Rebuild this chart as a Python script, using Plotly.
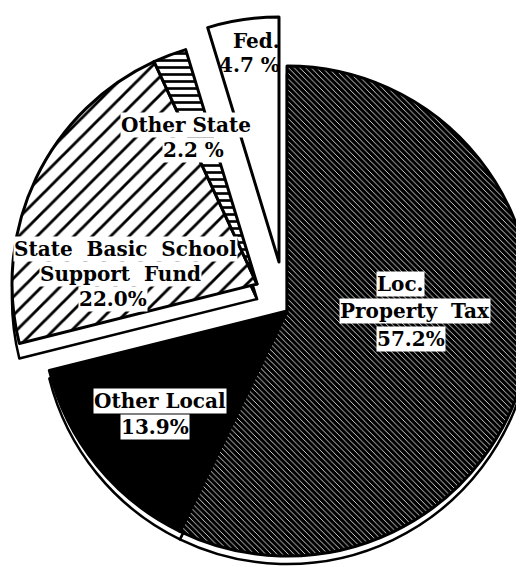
import plotly.graph_objects as go

# ---- data ----
labels = ["Local Property Tax", "Other Local", "State Basic School Support Fund", "Other State", "Fed."]
values = [57.2, 13.9, 22.0, 2.2, 4.7]
label_lines = [
    ["Loc.", "Property  Tax", "57.2%"],
    ["Other Local", "13.9%"],
    ["State  Basic  School", "Support  Fund", "22.0%"],
    ["Other State", "2.2 %"],
    ["Fed.", "4.7 %"],
]

# ---- styles ----
W, H = 524, 567
R = 245
bg = ["black", "black", "white", "white", "white"]
shape = ["\\", "", "/", "-", ""]
fg = ["white", "black", "black", "black", "black"]
psize = [4, 8, 13, 7, 8]
solid = [0.2, 0.3, 0.22, 0.38, 0.3]
groups = [[0, 1], [2, 3], [4]]          # main pie, exploded state chunk, exploded fed chunk
centers = [(279, 303), (249, 276), (271, 254)]
shadows = [(279, 311, [0, 1]), (249, 291, [2, 3])]
line_pos = [
    [(392, 276), (407, 303), (403, 331)],
    [(152, 393), (147, 419)],
    [(117, 241), (112, 266), (105, 291)],
    [(178, 117), (185, 142)],
    [(248, 33), (241, 57)],
]
label_bg = ["white", "white", "white", "white", "rgba(0,0,0,0)"]
TRANSP = "rgba(0,0,0,0)"


def domain(cx, cy, r=R):
    return dict(x=[(cx - r) / W, (cx + r) / W], y=[(H - cy - r) / H, (H - cy + r) / H])


fig = go.Figure()

# shadow rims under the pieces
for sx, sy, grp in shadows:
    fig.add_trace(go.Pie(
        labels=labels, values=values, sort=False, direction="clockwise", rotation=0,
        domain=domain(sx, sy),
        marker=dict(colors=["white" if i in grp else TRANSP for i in range(len(values))],
                    line=dict(color="black", width=[2.5 if i in grp else 0 for i in range(len(values))])),
        textinfo="none", hoverinfo="skip", showlegend=False,
    ))

for gi, grp in enumerate(groups):
    cols, lw, shp, fgc, bgc, sz, so = [], [], [], [], [], [], []
    for i in range(len(values)):
        if i in grp:
            cols.append(bg[i]); lw.append(3); shp.append(shape[i])
            fgc.append(fg[i]); bgc.append(bg[i]); sz.append(psize[i]); so.append(solid[i])
        else:
            cols.append(TRANSP); lw.append(0); shp.append("")
            fgc.append(TRANSP); bgc.append(TRANSP); sz.append(8); so.append(0.3)
    cx, cy = centers[gi]
    fig.add_trace(go.Pie(
        labels=labels, values=values, sort=False, direction="clockwise", rotation=0,
        domain=domain(cx, cy),
        marker=dict(colors=cols, line=dict(color="black", width=lw),
                    pattern=dict(shape=shp, fgcolor=fgc, bgcolor=bgc, size=sz, solidity=so,
                                 fillmode="replace")),
        textinfo="none", hoverinfo="skip", showlegend=False,
    ))

for i, lines in enumerate(label_lines):
    for t, (px, py) in zip(lines, line_pos[i]):
        fig.add_annotation(
            x=px / W, y=1 - py / H, xref="paper", yref="paper",
            xanchor="center", yanchor="middle",
            text="<b>" + t + "</b>", showarrow=False,
            font=dict(family="DejaVu Serif", size=20, color="black"),
            bgcolor=label_bg[i], borderpad=0, align="center",
        )

fig.update_layout(
    width=W, height=H, margin=dict(l=0, r=0, t=0, b=0),
    paper_bgcolor="white", plot_bgcolor="white", showlegend=False,
)

fig.write_html("out.html")
